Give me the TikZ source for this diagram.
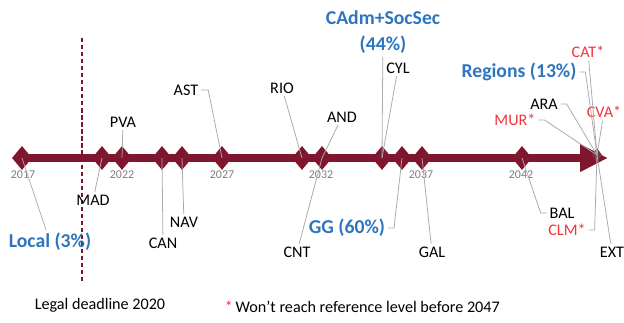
\documentclass[tikz,border=0pt]{standalone}
\usepackage{fontspec}
\setmainfont{Carlito}
\usepackage{tikz}
\usetikzlibrary{shapes.geometric, arrows.meta, positioning}

\definecolor{maroon}{RGB}{128,21,46}
\definecolor{sectorblue}{RGB}{46,117,190}
\definecolor{laterred}{RGB}{240,52,62}
\definecolor{leadgray}{RGB}{170,170,170}
\definecolor{yeargray}{RGB}{125,125,125}

\begin{document}
\begin{tikzpicture}[
    milestone/.style={
        diamond, fill=maroon, inner sep=0pt,
        minimum width=1cm, minimum height=1.2cm
    },
    year/.style={font=\fontsize{17}{20}\selectfont, text=yeargray},
    region/.style={font=\fontsize{23}{27}\selectfont, inner sep=4pt},
    sector/.style={region, font=\fontsize{28}{38}\selectfont\bfseries, text=sectorblue},
    late/.style={region, text=laterred},
    leader/.style={draw=leadgray, line width=1.1pt},
    axis/.style={draw=maroon, line width=0.4cm, -{Triangle[length=1.4cm, width=1.3cm]}},
    deadline/.style={draw=maroon, line width=2.5pt, dash pattern=on 6pt off 4pt}
]
\useasboundingbox (-1.1,-8.2) rectangle (30.1,7.9);

% Legal deadline
\coordinate (dtop) at (3,6.0);
\coordinate (dbottom) at (3,-6.25);
\draw[deadline] (dtop) -- (dbottom);

% Timeline
\coordinate (start) at (0,0);
\coordinate (tip) at (29.3,0);
\draw[axis] (start) -- (tip);

\node[milestone] (y2017) at (0,0) {};
\node[milestone] (y2021) at (4,0) {};
\node[milestone] (y2022) at (5,0) {};
\node[milestone] (y2024) at (7,0) {};
\node[milestone] (y2025) at (8,0) {};
\node[milestone] (y2027) at (10,0) {};
\node[milestone] (y2031) at (14,0) {};
\node[milestone] (y2032) at (15,0) {};
\node[milestone] (y2035) at (18,0) {};
\node[milestone] (y2036) at (19,0) {};
\node[milestone] (y2037) at (20,0) {};
\node[milestone] (y2042) at (25,0) {};
\node[milestone, minimum width=0.5cm, minimum height=0.7cm, fill=maroon!70!gray] (y2046) at (28.75,0.15) {};

% Years
\node[year] (t2017) at (0.05,-0.85) {2017};
\node[year] (t2022) at (5,-0.85) {2022};
\node[year] (t2027) at (10,-0.85) {2027};
\node[year] (t2032) at (14.95,-0.85) {2032};
\node[year] (t2037) at (19.95,-0.85) {2037};
\node[year] (t2042) at (24.95,-0.85) {2042};

% Administrations
\node[sector] (local) at (1.4,-4.2) {Local (3\%)};
\node[region] (mad) at (3.55,-2.1) {MAD};
\node[region] (pva) at (5.05,1.8) {PVA};
\node[region] (can) at (7.05,-4.25) {CAN};
\node[region] (nav) at (8.1,-3.2) {NAV};
\node[region] (ast) at (8.2,3.4) {AST};
\node[region] (rio) at (13.0,3.5) {RIO};
\node[region] (and) at (16.0,2.05) {AND};
\node[region] (cnt) at (13.75,-4.7) {CNT};
\node[sector, align=center] (cadm) at (18.05,6.3) {CAdm+SocSec\\(44\%)};
\node[region] (cyl) at (18.8,4.5) {CYL};
\node[sector] (gg) at (16.25,-3.5) {GG (60\%)};
\node[region] (gal) at (20.5,-4.7) {GAL};
\node[region] (bal) at (27.0,-2.75) {BAL};
\node[late] (clm) at (27.25,-3.6) {CLM*};
\node[region] (ext) at (29.5,-4.7) {EXT};
\node[sector] (regions) at (24.85,4.3) {Regions (13\%)};
\node[late] (cat) at (28.3,5.3) {CAT*};
\node[region] (ara) at (26.1,2.7) {ARA};
\node[late] (mur) at (24.65,1.9) {MUR*};
\node[late] (cva) at (29.1,2.3) {CVA*};

% Leaders
\draw[leader] (local) -- (y2017.center);
\draw[leader] (mad) -- (y2021.center);
\draw[leader] (pva) -- (y2022.center);
\draw[leader] (can) -- (y2024.center);
\draw[leader] (nav) -- (y2025.center);
\draw[leader] (ast.east) -- ++(0.35,0) -- (y2027.center);
\draw[leader] (rio) -- (y2031.center);
\draw[leader] (and) -- (y2032.center);
\draw[leader] (cnt) -- (y2032.center);
\draw[leader] (cadm) -- (y2035.center);
\draw[leader] (cyl) -- (y2035.center);
\draw[leader] (gg.east) -- ++(0.3,0) -- (y2036.center);
\draw[leader] (gal) -- (y2037.center);
\draw[leader] (bal.west) -- ++(-0.3,0) -- (y2042.center);
\draw[leader] (clm.east) -- ++(0.3,0) -- (y2046.center);
\draw[leader] (ext) -- (y2046.center);
\draw[leader] (regions.east) -- ++(0.3,0) -- (y2046.center);
\draw[leader] (cat) -- (y2046.center);
\draw[leader] (ara.east) -- ++(0.3,0) -- (y2046.center);
\draw[leader] (mur.east) -- ++(0.3,0) -- (y2046.center);
\draw[leader] (cva) -- (y2046.center);

% Legend
\node[region] (legal) at (3.9,-7.35) {Legal deadline 2020};
\node[region, anchor=west] (note) at (10.0,-7.45) {\textcolor{laterred}{*}\,Won't reach reference level before 2047};

\end{tikzpicture}
\end{document}
